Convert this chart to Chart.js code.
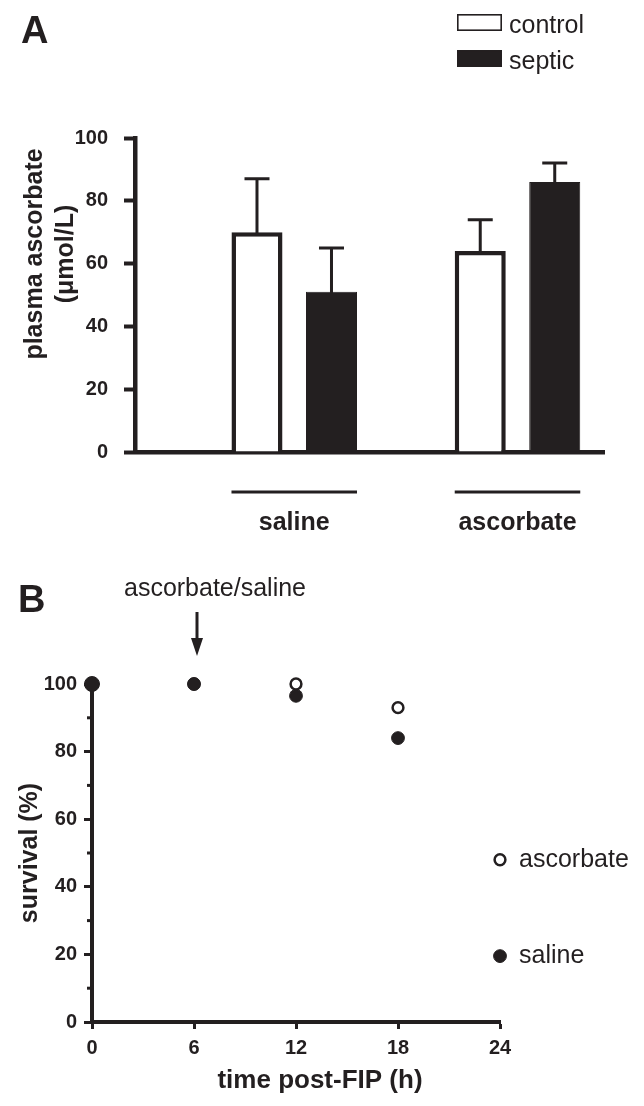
<!DOCTYPE html>
<html><head><meta charset="utf-8">
<script src="https://cdn.jsdelivr.net/npm/chart.js@4.4.0/dist/chart.umd.min.js"></script>
<style>
html,body{margin:0;padding:0;background:#fff;}
#wrap{position:relative;width:644px;height:1106px;overflow:hidden;}
.pane{position:absolute;left:0;width:644px;}
</style></head><body>
<div id="wrap">
  <div class="pane" style="top:0;height:560px"><canvas id="cA" width="644" height="560"></canvas></div>
  <div class="pane" style="top:560px;height:546px"><canvas id="cB" width="644" height="546"></canvas></div>
</div>
<script>
// ---------- Panel A data ----------
const groups = ['saline', 'ascorbate'];
const seriesA = ['control', 'septic'];
const controlMean = [70, 64];
const septicMean = [51, 86];
const controlErr = [17, 10];
const septicErr = [14, 6];
const yTicksA = [0, 20, 40, 60, 80, 100];

// ---------- Panel B data ----------
const hours = [0, 6, 12, 18, 24];
const salineSurv = [100, 100, 96.5, 84, 19.5];
const ascorbateSurv = [100, 100, 100, 93, 48];
const seriesB = ['saline', 'ascorbate'];
const xTicksB = [0, 6, 12, 18, 24];
const yTicksB = [0, 20, 40, 60, 80, 100];
const yMinorB = [10, 30, 50, 70, 90];
const injectionHour = 6;

const INK = '#231f20';
const FONT = "'Liberation Sans', Arial, Helvetica, sans-serif";
Chart.defaults.font.family = FONT;
Chart.defaults.color = INK;

// ---------- Panel A ----------
const errsA = [controlErr, septicErr];
const panelAPlugin = {
  id: 'panelA',
  afterDatasetsDraw(chart) {
    const ctx = chart.ctx, ys = chart.scales.y, xs = chart.scales.x;
    ctx.save();
    ctx.strokeStyle = INK; ctx.lineWidth = 3; ctx.lineCap = 'butt';
    // error bars (upper only)
    chart.data.datasets.forEach((ds, di) => {
      chart.getDatasetMeta(di).data.forEach((bar, i) => {
        const top = ys.getPixelForValue(ds.data[i].y + errsA[di][i]);
        ctx.beginPath();
        ctx.moveTo(bar.x, bar.y + 2); ctx.lineTo(bar.x, top);
        ctx.moveTo(bar.x - 12.5, top); ctx.lineTo(bar.x + 12.5, top);
        ctx.stroke();
      });
    });
    // group underlines
    const m0 = chart.getDatasetMeta(0).data, m1 = chart.getDatasetMeta(chart.data.datasets.length - 1).data;
    groups.forEach((g, i) => {
      const l = m0[i].x - m0[i].width / 2, r = m1[i].x + m1[i].width / 2;
      ctx.beginPath(); ctx.moveTo(l, xs.top + 40); ctx.lineTo(r, xs.top + 40); ctx.stroke();
    });
    ctx.restore();
  },
  afterDraw(chart) {
    const ctx = chart.ctx, ca = chart.chartArea;
    ctx.save();
    ctx.fillStyle = INK;
    // panel letter
    ctx.font = 'bold 38px ' + FONT; ctx.textAlign = 'left'; ctx.textBaseline = 'alphabetic';
    ctx.fillText('A', 21, 43);
    // legend
    ctx.font = '25px ' + FONT;
    chart.data.datasets.forEach((ds, i) => {
      const y0 = 14 + i * 36;
      ctx.fillStyle = ds.backgroundColor; ctx.strokeStyle = INK; ctx.lineWidth = 1.6;
      ctx.fillRect(457, y0, 45, 17); ctx.strokeRect(457.8, y0 + 0.8, 43.4, 15.4);
      ctx.fillStyle = INK;
      ctx.fillText(seriesA[i], 509, y0 + 19);
    });
    // y title
    ctx.font = 'bold 25px ' + FONT; ctx.textAlign = 'center'; ctx.textBaseline = 'middle';
    const cy = (ca.top + ca.bottom) / 2 - 41;
    ctx.save(); ctx.translate(35, cy); ctx.rotate(-Math.PI / 2); ctx.fillText('plasma ascorbate', 0, 0); ctx.restore();
    ctx.save(); ctx.translate(66, cy); ctx.rotate(-Math.PI / 2); ctx.fillText('(\u03bcmol/L)', 0, 0); ctx.restore();
    ctx.restore();
  }
};

new Chart(document.getElementById('cA'), {
  type: 'bar',
  data: {
    datasets: [
      { label: seriesA[0], data: controlMean.map((v, i) => ({ x: i + 1, y: v })),
        backgroundColor: '#ffffff', borderColor: INK, borderWidth: 4.5 },
      { label: seriesA[1], data: septicMean.map((v, i) => ({ x: i + 1, y: v })),
        backgroundColor: INK, borderColor: INK, borderWidth: 1 }
    ]
  },
  options: {
    responsive: false, animation: false,
    categoryPercentage: 0.6674, barPercentage: 0.685,
    layout: { padding: { top: 138, right: 40, left: 0, bottom: 0 } },
    plugins: { legend: { display: false }, tooltip: { enabled: false } },
    scales: {
      x: {
        type: 'linear', min: 0.2867, max: 2.3875, offset: false,
        afterBuildTicks: s => { s.ticks = groups.map((g, i) => ({ value: i + 1 })); },
        afterFit: s => { s.height = 108; },
        grid: { display: false, drawTicks: false, tickLength: 0, offset: false },
        border: { display: true, color: INK, width: 4.5 },
        ticks: { callback: v => groups[v - 1] || '', font: { size: 25, weight: 'bold' }, padding: 56, maxRotation: 0, autoSkip: false }
      },
      y: {
        min: 0, max: 100,
        afterBuildTicks: s => { s.ticks = yTicksA.map(v => ({ value: v })); },
        afterFit: s => { s.width = 135; },
        grid: { drawOnChartArea: false, drawTicks: true, tickLength: 11, tickWidth: 4, tickColor: INK },
        border: { display: true, color: INK, width: 4.5 },
        ticks: { font: { size: 20, weight: 'bold' }, padding: 16 }
      }
    }
  },
  plugins: [panelAPlugin]
});

// ---------- Panel B ----------
const panelBPlugin = {
  id: 'panelB',
  afterDraw(chart) {
    const ctx = chart.ctx, ca = chart.chartArea, xs = chart.scales.x, ys = chart.scales.y;
    ctx.save();
    ctx.fillStyle = INK; ctx.strokeStyle = INK;
    // minor ticks
    ctx.lineWidth = 3;
    yMinorB.forEach(v => {
      const py = ys.getPixelForValue(v);
      ctx.beginPath(); ctx.moveTo(ca.left - 5, py); ctx.lineTo(ca.left, py); ctx.stroke();
    });
    // panel letter
    ctx.font = 'bold 38px ' + FONT; ctx.textAlign = 'left'; ctx.textBaseline = 'alphabetic';
    ctx.fillText('B', 18, 52);
    // injection annotation
    ctx.font = '25px ' + FONT; ctx.textAlign = 'center';
    ctx.fillText('ascorbate/saline', 215, 36);
    const ax = xs.getPixelForValue(injectionHour) + 3;
    ctx.lineWidth = 3;
    ctx.beginPath(); ctx.moveTo(ax, ca.top - 72); ctx.lineTo(ax, ca.top - 42); ctx.stroke();
    ctx.beginPath(); ctx.moveTo(ax - 6, ca.top - 46); ctx.lineTo(ax + 6, ca.top - 46); ctx.lineTo(ax, ca.top - 28); ctx.closePath(); ctx.fill();
    // series labels next to final points
    ctx.textAlign = 'left'; ctx.textBaseline = 'middle';
    chart.data.datasets.forEach((ds, i) => {
      const pts = chart.getDatasetMeta(i).data, p = pts[pts.length - 1];
      ctx.fillText(ds.label, p.x + 19, p.y);
    });
    // axis titles
    ctx.font = 'bold 26px ' + FONT; ctx.textAlign = 'center'; ctx.textBaseline = 'alphabetic';
    ctx.fillText('time post-FIP (h)', 320, 528);
    ctx.textBaseline = 'middle'; ctx.font = 'bold 25px ' + FONT;
    ctx.save(); ctx.translate(30, (ca.top + ca.bottom) / 2); ctx.rotate(-Math.PI / 2); ctx.fillText('survival (%)', 0, 0); ctx.restore();
    ctx.restore();
  }
};

new Chart(document.getElementById('cB'), {
  type: 'scatter',
  data: {
    datasets: [
      { label: seriesB[0], data: hours.map((h, i) => ({ x: h, y: salineSurv[i] })),
        backgroundColor: INK, borderColor: INK, borderWidth: 1, pointRadius: [7.5, 6.4, 6.4, 6.4, 6.4], clip: false },
      { label: seriesB[1], data: hours.map((h, i) => ({ x: h, y: ascorbateSurv[i] })),
        backgroundColor: '#ffffff', borderColor: INK, borderWidth: 2.5, pointRadius: 5.4, clip: false }
    ]
  },
  options: {
    responsive: false, animation: false,
    layout: { padding: { top: 124, right: 144, left: 0, bottom: 0 } },
    plugins: { legend: { display: false }, tooltip: { enabled: false } },
    scales: {
      x: {
        type: 'linear', min: 0, max: 24,
        afterBuildTicks: s => { s.ticks = xTicksB.map(v => ({ value: v })); },
        afterFit: s => { s.height = 84; },
        grid: { drawOnChartArea: false, drawTicks: true, tickLength: 7, tickWidth: 3, tickColor: INK },
        border: { display: true, color: INK, width: 4 },
        ticks: { font: { size: 20, weight: 'bold' }, padding: 7, maxRotation: 0, autoSkip: false }
      },
      y: {
        min: 0, max: 100,
        afterBuildTicks: s => { s.ticks = yTicksB.map(v => ({ value: v })); },
        afterFit: s => { s.width = 92; },
        grid: { drawOnChartArea: false, drawTicks: true, tickLength: 8, tickWidth: 3, tickColor: INK },
        border: { display: true, color: INK, width: 4 },
        ticks: { font: { size: 20, weight: 'bold' }, padding: 7 }
      }
    }
  },
  plugins: [panelBPlugin]
});
</script>
</body></html>
